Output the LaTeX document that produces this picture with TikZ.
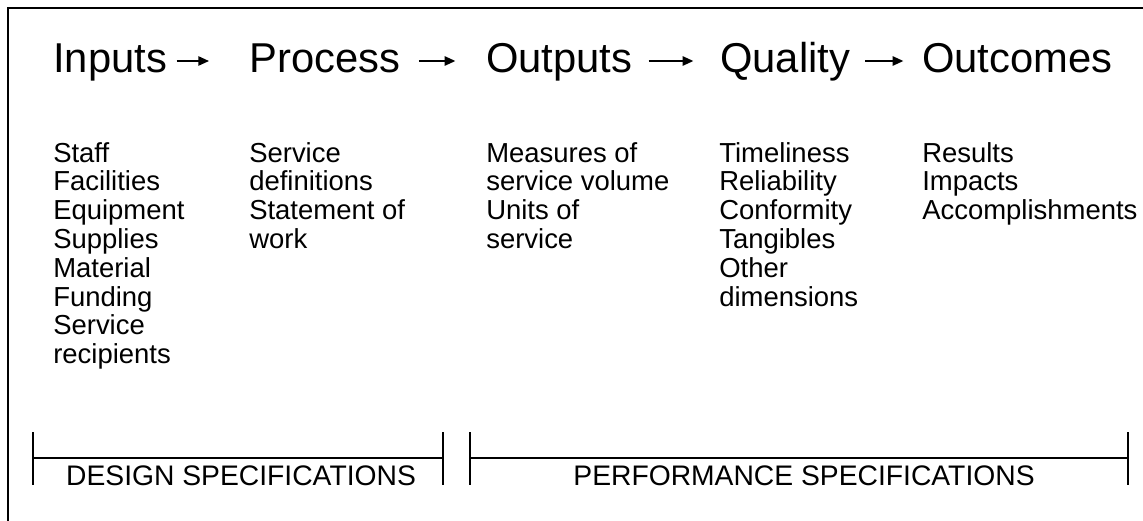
\documentclass[tikz,border=0pt]{standalone}
\usepackage{fontspec}
\setmainfont{Liberation Sans}
\usetikzlibrary{arrows.meta}
\begin{document}
\begin{tikzpicture}[x=0.75pt,y=-0.75pt,
  frame/.style={line width=1pt},
  head/.style={anchor=base west,inner sep=0pt,font=\fontsize{31.3}{36}\selectfont,text height=22.5pt,text depth=6pt},
  item/.style={anchor=base west,inner sep=0pt,font=\fontsize{20.6}{21.6}\selectfont},
  flow/.style={line width=1.2pt,-{Triangle[length=8pt,width=7pt]}},
  bracket/.style={line width=0.8pt},
  spec/.style={anchor=base,inner sep=0pt,font=\fontsize{21.2}{25}\selectfont}]
\useasboundingbox (0,0) rectangle (1143,521);
\draw[frame] (8,521) -- (8,8) -- (1143,8);
% headings
\node[head] (h1) at (53,72) {Inputs};
\node[head] (h2) at (249,72) {Process};
\node[head] (h3) at (486,72) {Outputs};
\node[head] (h4) at (720,72) {Quality};
\node[head] (h5) at (922,72) {Outcomes};
\draw[flow] ([xshift=7pt]h1.east) -- ([xshift=-30pt]h2.west);
\draw[flow] ([xshift=14pt]h2.east) -- ([xshift=-23pt]h3.west);
\draw[flow] ([xshift=12pt]h3.east) -- ([xshift=-20pt]h4.west);
\draw[flow] ([xshift=11pt]h4.east) -- ([xshift=-14pt]h5.west);
% lists
\node[item] (l1) at (53,162) {\begin{tabular}[t]{@{}l@{}}Staff\\Facilities\\Equipment\\Supplies\\Material\\Funding\\Service\\recipients\end{tabular}};
\node[item] (l2) at (249,162) {\begin{tabular}[t]{@{}l@{}}Service\\definitions\\Statement of\\work\end{tabular}};
\node[item] (l3) at (486,162) {\begin{tabular}[t]{@{}l@{}}Measures of\\service volume\\Units of\\service\end{tabular}};
\node[item] (l4) at (719,162) {\begin{tabular}[t]{@{}l@{}}Timeliness\\Reliability\\Conformity\\Tangibles\\Other\\dimensions\end{tabular}};
\node[item] (l5) at (922,162) {\begin{tabular}[t]{@{}l@{}}Results\\Impacts\\Accomplishments\end{tabular}};
% brackets
\draw[bracket] (33,432) -- (33,485) (33,458) -- (443,458) (443,432) -- (443,485);
\draw[bracket] (470,432) -- (470,485) (470,458) -- (1128,458) (1128,432) -- (1128,485);
\node[spec] (s1) at (241,485) {DESIGN SPECIFICATIONS};
\node[spec] (s2) at (804,485) {PERFORMANCE SPECIFICATIONS};
\end{tikzpicture}
\end{document}
